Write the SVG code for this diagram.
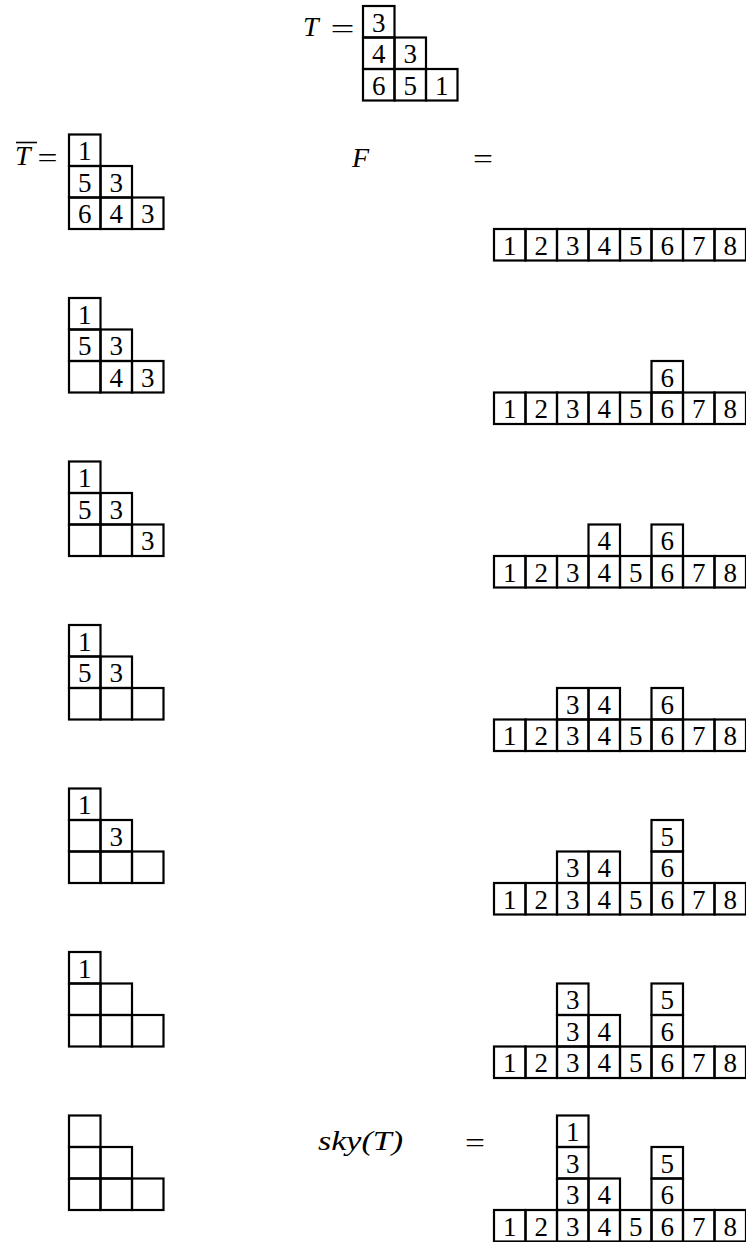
<svg xmlns="http://www.w3.org/2000/svg" width="746" height="1242" viewBox="0 0 746 1242">
<style>
.c{fill:none;stroke:#000;stroke-width:2.2}
.d{font-family:"Liberation Serif",serif;font-size:27px;text-anchor:middle;fill:#000}
.m{font-family:"Liberation Serif",serif;font-size:28px;font-style:italic;fill:#000}
.e{font-family:"Liberation Serif",serif;font-size:27px;text-anchor:middle;fill:#000}
</style>
<rect width="746" height="1242" fill="#fff"/>
<defs>
<g id="cell"><rect class="c" x="0" y="0" width="31.5" height="31.5"/></g>
</defs>

<g id="label-T">
<text class="m" x="303" y="36">T</text>
<text class="e" x="342.5" y="37.5" textLength="24" lengthAdjust="spacingAndGlyphs">=</text>
</g>
<g id="tableau-T">
<use href="#cell" x="363" y="6"/>
<use href="#cell" x="363" y="37.5"/><use href="#cell" x="394.5" y="37.5"/>
<use href="#cell" x="363" y="69"/><use href="#cell" x="394.5" y="69"/><use href="#cell" x="426" y="69"/>
<text class="d" x="378.75" y="31.5">3</text>
<text class="d" x="378.75" y="63">4</text><text class="d" x="410.25" y="63">3</text>
<text class="d" x="378.75" y="94.5">6</text><text class="d" x="410.25" y="94.5">5</text><text class="d" x="441.75" y="94.5">1</text>
</g>

<g id="label-Tbar">
<text class="m" x="15" y="165">T</text>
<line x1="16" y1="142.5" x2="37" y2="142.5" stroke="#000" stroke-width="1.6"/>
<text class="e" x="47.5" y="166.5" textLength="20" lengthAdjust="spacingAndGlyphs">=</text>
</g>
<g id="label-F">
<text class="m" x="352" y="166.5">F</text>
<text class="e" x="483" y="168" textLength="20" lengthAdjust="spacingAndGlyphs">=</text>
</g>
<g id="label-sky">
<text class="m" x="318" y="1150" textLength="85" lengthAdjust="spacingAndGlyphs">sky(T)</text>
<text class="e" x="475" y="1152" textLength="20" lengthAdjust="spacingAndGlyphs">=</text>
</g>

<!-- Panel 1 -->
<g id="left-1" transform="translate(69,134.5)">
<use href="#cell" x="0" y="0"/>
<use href="#cell" x="0" y="31.5"/><use href="#cell" x="31.5" y="31.5"/>
<use href="#cell" x="0" y="63"/><use href="#cell" x="31.5" y="63"/><use href="#cell" x="63" y="63"/>
<text class="d" x="15.75" y="25.5">1</text>
<text class="d" x="15.75" y="57">5</text><text class="d" x="47.25" y="57">3</text>
<text class="d" x="15.75" y="88.5">6</text><text class="d" x="47.25" y="88.5">4</text><text class="d" x="78.75" y="88.5">3</text>
</g>
<g id="F-1" transform="translate(494,229)">
<use href="#cell" x="0" y="0"/><use href="#cell" x="31.5" y="0"/><use href="#cell" x="63" y="0"/><use href="#cell" x="94.5" y="0"/><use href="#cell" x="126" y="0"/><use href="#cell" x="157.5" y="0"/><use href="#cell" x="189" y="0"/><use href="#cell" x="220.5" y="0"/>
<text class="d" x="15.75" y="25.5">1</text><text class="d" x="47.25" y="25.5">2</text><text class="d" x="78.75" y="25.5">3</text><text class="d" x="110.25" y="25.5">4</text><text class="d" x="141.75" y="25.5">5</text><text class="d" x="173.25" y="25.5">6</text><text class="d" x="204.75" y="25.5">7</text><text class="d" x="236.25" y="25.5">8</text>
</g>

<!-- Panel 2 -->
<g id="left-2" transform="translate(69,298)">
<use href="#cell" x="0" y="0"/>
<use href="#cell" x="0" y="31.5"/><use href="#cell" x="31.5" y="31.5"/>
<use href="#cell" x="0" y="63"/><use href="#cell" x="31.5" y="63"/><use href="#cell" x="63" y="63"/>
<text class="d" x="15.75" y="25.5">1</text>
<text class="d" x="15.75" y="57">5</text><text class="d" x="47.25" y="57">3</text>
<text class="d" x="47.25" y="88.5">4</text><text class="d" x="78.75" y="88.5">3</text>
</g>
<g id="F-2" transform="translate(494,392.5)">
<use href="#cell" x="0" y="0"/><use href="#cell" x="31.5" y="0"/><use href="#cell" x="63" y="0"/><use href="#cell" x="94.5" y="0"/><use href="#cell" x="126" y="0"/><use href="#cell" x="157.5" y="0"/><use href="#cell" x="189" y="0"/><use href="#cell" x="220.5" y="0"/>
<text class="d" x="15.75" y="25.5">1</text><text class="d" x="47.25" y="25.5">2</text><text class="d" x="78.75" y="25.5">3</text><text class="d" x="110.25" y="25.5">4</text><text class="d" x="141.75" y="25.5">5</text><text class="d" x="173.25" y="25.5">6</text><text class="d" x="204.75" y="25.5">7</text><text class="d" x="236.25" y="25.5">8</text>
<use href="#cell" x="157.5" y="-31.5"/><text class="d" x="173.25" y="-6">6</text>
</g>

<!-- Panel 3 -->
<g id="left-3" transform="translate(69,461.5)">
<use href="#cell" x="0" y="0"/>
<use href="#cell" x="0" y="31.5"/><use href="#cell" x="31.5" y="31.5"/>
<use href="#cell" x="0" y="63"/><use href="#cell" x="31.5" y="63"/><use href="#cell" x="63" y="63"/>
<text class="d" x="15.75" y="25.5">1</text>
<text class="d" x="15.75" y="57">5</text><text class="d" x="47.25" y="57">3</text>
<text class="d" x="78.75" y="88.5">3</text>
</g>
<g id="F-3" transform="translate(494,556)">
<use href="#cell" x="0" y="0"/><use href="#cell" x="31.5" y="0"/><use href="#cell" x="63" y="0"/><use href="#cell" x="94.5" y="0"/><use href="#cell" x="126" y="0"/><use href="#cell" x="157.5" y="0"/><use href="#cell" x="189" y="0"/><use href="#cell" x="220.5" y="0"/>
<text class="d" x="15.75" y="25.5">1</text><text class="d" x="47.25" y="25.5">2</text><text class="d" x="78.75" y="25.5">3</text><text class="d" x="110.25" y="25.5">4</text><text class="d" x="141.75" y="25.5">5</text><text class="d" x="173.25" y="25.5">6</text><text class="d" x="204.75" y="25.5">7</text><text class="d" x="236.25" y="25.5">8</text>
<use href="#cell" x="94.5" y="-31.5"/><text class="d" x="110.25" y="-6">4</text>
<use href="#cell" x="157.5" y="-31.5"/><text class="d" x="173.25" y="-6">6</text>
</g>

<!-- Panel 4 -->
<g id="left-4" transform="translate(69,625)">
<use href="#cell" x="0" y="0"/>
<use href="#cell" x="0" y="31.5"/><use href="#cell" x="31.5" y="31.5"/>
<use href="#cell" x="0" y="63"/><use href="#cell" x="31.5" y="63"/><use href="#cell" x="63" y="63"/>
<text class="d" x="15.75" y="25.5">1</text>
<text class="d" x="15.75" y="57">5</text><text class="d" x="47.25" y="57">3</text>
</g>
<g id="F-4" transform="translate(494,719.5)">
<use href="#cell" x="0" y="0"/><use href="#cell" x="31.5" y="0"/><use href="#cell" x="63" y="0"/><use href="#cell" x="94.5" y="0"/><use href="#cell" x="126" y="0"/><use href="#cell" x="157.5" y="0"/><use href="#cell" x="189" y="0"/><use href="#cell" x="220.5" y="0"/>
<text class="d" x="15.75" y="25.5">1</text><text class="d" x="47.25" y="25.5">2</text><text class="d" x="78.75" y="25.5">3</text><text class="d" x="110.25" y="25.5">4</text><text class="d" x="141.75" y="25.5">5</text><text class="d" x="173.25" y="25.5">6</text><text class="d" x="204.75" y="25.5">7</text><text class="d" x="236.25" y="25.5">8</text>
<use href="#cell" x="63" y="-31.5"/><text class="d" x="78.75" y="-6">3</text>
<use href="#cell" x="94.5" y="-31.5"/><text class="d" x="110.25" y="-6">4</text>
<use href="#cell" x="157.5" y="-31.5"/><text class="d" x="173.25" y="-6">6</text>
</g>

<!-- Panel 5 -->
<g id="left-5" transform="translate(69,788.5)">
<use href="#cell" x="0" y="0"/>
<use href="#cell" x="0" y="31.5"/><use href="#cell" x="31.5" y="31.5"/>
<use href="#cell" x="0" y="63"/><use href="#cell" x="31.5" y="63"/><use href="#cell" x="63" y="63"/>
<text class="d" x="15.75" y="25.5">1</text>
<text class="d" x="47.25" y="57">3</text>
</g>
<g id="F-5" transform="translate(494,883)">
<use href="#cell" x="0" y="0"/><use href="#cell" x="31.5" y="0"/><use href="#cell" x="63" y="0"/><use href="#cell" x="94.5" y="0"/><use href="#cell" x="126" y="0"/><use href="#cell" x="157.5" y="0"/><use href="#cell" x="189" y="0"/><use href="#cell" x="220.5" y="0"/>
<text class="d" x="15.75" y="25.5">1</text><text class="d" x="47.25" y="25.5">2</text><text class="d" x="78.75" y="25.5">3</text><text class="d" x="110.25" y="25.5">4</text><text class="d" x="141.75" y="25.5">5</text><text class="d" x="173.25" y="25.5">6</text><text class="d" x="204.75" y="25.5">7</text><text class="d" x="236.25" y="25.5">8</text>
<use href="#cell" x="63" y="-31.5"/><text class="d" x="78.75" y="-6">3</text>
<use href="#cell" x="94.5" y="-31.5"/><text class="d" x="110.25" y="-6">4</text>
<use href="#cell" x="157.5" y="-31.5"/><text class="d" x="173.25" y="-6">6</text>
<use href="#cell" x="157.5" y="-63"/><text class="d" x="173.25" y="-37.5">5</text>
</g>

<!-- Panel 6 -->
<g id="left-6" transform="translate(69,952)">
<use href="#cell" x="0" y="0"/>
<use href="#cell" x="0" y="31.5"/><use href="#cell" x="31.5" y="31.5"/>
<use href="#cell" x="0" y="63"/><use href="#cell" x="31.5" y="63"/><use href="#cell" x="63" y="63"/>
<text class="d" x="15.75" y="25.5">1</text>
</g>
<g id="F-6" transform="translate(494,1046.5)">
<use href="#cell" x="0" y="0"/><use href="#cell" x="31.5" y="0"/><use href="#cell" x="63" y="0"/><use href="#cell" x="94.5" y="0"/><use href="#cell" x="126" y="0"/><use href="#cell" x="157.5" y="0"/><use href="#cell" x="189" y="0"/><use href="#cell" x="220.5" y="0"/>
<text class="d" x="15.75" y="25.5">1</text><text class="d" x="47.25" y="25.5">2</text><text class="d" x="78.75" y="25.5">3</text><text class="d" x="110.25" y="25.5">4</text><text class="d" x="141.75" y="25.5">5</text><text class="d" x="173.25" y="25.5">6</text><text class="d" x="204.75" y="25.5">7</text><text class="d" x="236.25" y="25.5">8</text>
<use href="#cell" x="63" y="-31.5"/><text class="d" x="78.75" y="-6">3</text>
<use href="#cell" x="63" y="-63"/><text class="d" x="78.75" y="-37.5">3</text>
<use href="#cell" x="94.5" y="-31.5"/><text class="d" x="110.25" y="-6">4</text>
<use href="#cell" x="157.5" y="-31.5"/><text class="d" x="173.25" y="-6">6</text>
<use href="#cell" x="157.5" y="-63"/><text class="d" x="173.25" y="-37.5">5</text>
</g>

<!-- Panel 7 -->
<g id="left-7" transform="translate(69,1115.5)">
<use href="#cell" x="0" y="0"/>
<use href="#cell" x="0" y="31.5"/><use href="#cell" x="31.5" y="31.5"/>
<use href="#cell" x="0" y="63"/><use href="#cell" x="31.5" y="63"/><use href="#cell" x="63" y="63"/>
</g>
<g id="F-7" transform="translate(494,1210)">
<use href="#cell" x="0" y="0"/><use href="#cell" x="31.5" y="0"/><use href="#cell" x="63" y="0"/><use href="#cell" x="94.5" y="0"/><use href="#cell" x="126" y="0"/><use href="#cell" x="157.5" y="0"/><use href="#cell" x="189" y="0"/><use href="#cell" x="220.5" y="0"/>
<text class="d" x="15.75" y="25.5">1</text><text class="d" x="47.25" y="25.5">2</text><text class="d" x="78.75" y="25.5">3</text><text class="d" x="110.25" y="25.5">4</text><text class="d" x="141.75" y="25.5">5</text><text class="d" x="173.25" y="25.5">6</text><text class="d" x="204.75" y="25.5">7</text><text class="d" x="236.25" y="25.5">8</text>
<use href="#cell" x="63" y="-31.5"/><text class="d" x="78.75" y="-6">3</text>
<use href="#cell" x="63" y="-63"/><text class="d" x="78.75" y="-37.5">3</text>
<use href="#cell" x="63" y="-94.5"/><text class="d" x="78.75" y="-69">1</text>
<use href="#cell" x="94.5" y="-31.5"/><text class="d" x="110.25" y="-6">4</text>
<use href="#cell" x="157.5" y="-31.5"/><text class="d" x="173.25" y="-6">6</text>
<use href="#cell" x="157.5" y="-63"/><text class="d" x="173.25" y="-37.5">5</text>
</g>

<g id="connectors"/>
</svg>
